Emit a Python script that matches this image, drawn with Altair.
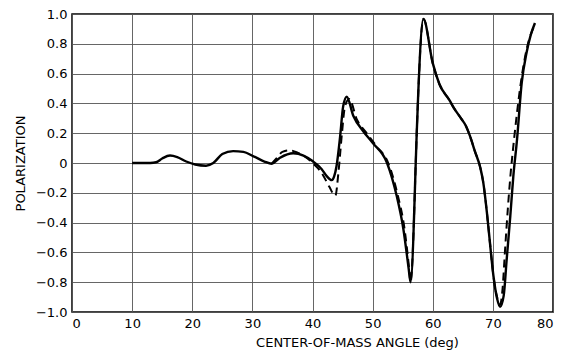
import altair as alt
import pandas as pd

# Solid curve (angle in deg, polarization)
solid_angle = [10.0, 13.0, 14.0, 15.0, 16.3, 17.5, 19.0, 20.5, 22.3, 23.5, 25.0, 26.8, 28.5,
               30.2, 32.0, 33.2, 34.6, 36.8, 38.5, 40.0, 41.5, 42.4, 43.2, 43.6, 44.0, 44.6,
               45.1, 45.7, 46.8, 48.5, 50.0, 52.4, 54.0, 55.1, 56.0, 56.3, 57.4, 57.6,
               58.45, 60.0, 61.1, 62.8, 63.5, 64.7, 65.5, 66.2, 67.0, 67.9, 68.4, 69.0, 69.5,
               70.1, 70.7, 71.2, 71.8, 72.3, 72.9, 73.4, 74.0, 74.8, 75.6, 76.3, 77.0]
solid_pol = [0.0, 0.0, 0.005, 0.03, 0.05, 0.04, 0.01, -0.01, -0.018, 0.0, 0.06, 0.08, 0.075,
             0.045, 0.01, -0.005, 0.035, 0.065, 0.05, 0.013, -0.04, -0.09, -0.115, -0.09, -0.02,
             0.18, 0.38, 0.445, 0.315, 0.21, 0.135, 0.0, -0.22, -0.44, -0.71, -0.80, 0.27, 0.48,
             0.966, 0.67, 0.53, 0.42, 0.37, 0.30, 0.25, 0.18, 0.08, -0.03, -0.13, -0.33, -0.53,
             -0.76, -0.91, -0.965, -0.89, -0.645, -0.355, -0.09, 0.15, 0.54, 0.74, 0.86, 0.94]

# Dashed curve
dashed_angle = [33.2, 34.0, 35.0, 36.2, 37.5, 39.0, 40.0, 41.0, 41.8, 42.8, 43.8, 44.3, 44.9,
                45.4, 46.1, 47.4, 49.0, 50.7, 52.6, 54.2, 55.3, 56.1, 56.3, 57.4, 57.6,
                58.45, 60.0, 61.1, 62.8, 63.5, 64.7, 65.5, 66.2, 67.0, 67.9, 68.4, 69.0, 69.5,
                70.1, 70.7, 71.2, 71.6, 72.0, 72.5, 73.0, 73.5, 74.2, 74.8, 75.6, 77.0]
dashed_pol = [-0.005, 0.03, 0.075, 0.085, 0.07, 0.035, 0.0, -0.04, -0.085, -0.16, -0.22, -0.07,
              0.2, 0.38, 0.43, 0.29, 0.2, 0.11, 0.0, -0.22, -0.44, -0.72, -0.80, 0.27, 0.48,
              0.966, 0.67, 0.53, 0.42, 0.37, 0.30, 0.25, 0.18, 0.08, -0.03, -0.13, -0.33,
              -0.53, -0.76, -0.9, -0.95, -0.85, -0.6, -0.3, -0.05, 0.15, 0.4, 0.58, 0.76, 0.93]

x_ticks = [0, 10, 20, 30, 40, 50, 60, 70, 80]
y_ticks = [-1.0, -0.8, -0.6, -0.4, -0.2, 0.0, 0.2, 0.4, 0.6, 0.8, 1.0]

df_solid = pd.DataFrame({"angle": solid_angle, "pol": solid_pol})
df_dashed = pd.DataFrame({"angle": dashed_angle, "pol": dashed_pol})

FONT = "DejaVu Sans"

x_enc = alt.X("angle:Q",
              scale=alt.Scale(domain=[0, 80], nice=False, zero=False),
              axis=alt.Axis(values=x_ticks, title="CENTER-OF-MASS ANGLE (deg)",
                            titleX=285, titleAnchor="middle", titleAlign="center"))
y_enc = alt.Y("pol:Q",
              scale=alt.Scale(domain=[-1, 1], nice=False, zero=False),
              axis=alt.Axis(values=y_ticks, title="POLARIZATION",
                            labelExpr="datum.value == 0 ? '0' : format(datum.value, '.1f')"))

solid = alt.Chart(df_solid).mark_line(
    color="black", strokeWidth=2.4, interpolate="monotone"
).encode(x=x_enc, y=y_enc)

dashed = alt.Chart(df_dashed).mark_line(
    color="black", strokeWidth=2.0, strokeDash=[8, 5], interpolate="monotone"
).encode(x=x_enc, y=y_enc)

chart = alt.layer(solid, dashed).properties(
    width=481, height=298,
    background="white",
    autosize=alt.AutoSizeParams(type="none"),
    padding={"left": 72, "top": 14, "right": 10, "bottom": 46},
).configure_view(
    stroke="black", strokeWidth=1.5
).configure_axis(
    grid=True, gridColor="#555555", gridWidth=0.9, gridOpacity=1,
    domain=False, ticks=False, labelOverlap=False,
    labelFont=FONT, labelFontSize=13, labelColor="black", labelPadding=5,
    titleFont=FONT, titleFontSize=13, titleFontWeight="normal", titleColor="black",
).configure_axisX(
    titlePadding=6
).configure_axisY(
    titlePadding=8
)

chart.save("out.html", embed_options={"renderer": "svg", "actions": False})
